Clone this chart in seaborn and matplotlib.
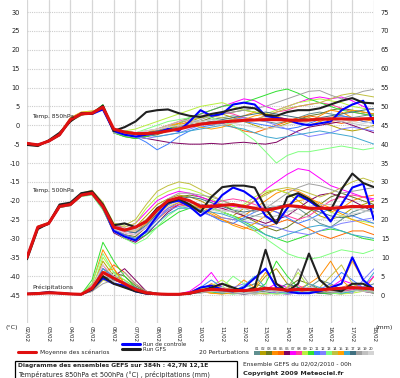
import matplotlib
matplotlib.use("Agg")
import matplotlib.pyplot as plt
from matplotlib.lines import Line2D
from matplotlib.patches import Rectangle
import seaborn as sns

# time axis: 12-hourly steps from 02/02 00h to 18/02 00h (in days)
days = [i / 2 for i in range(33)]
date_labels = ["%02d/02" % d for d in range(2, 19)]

# ---------- Temp 850 hPa (deg C) ----------
t850_mean = [-4.8, -5.2, -4.2, -2.5, 1.5, 3.0, 3.2, 4.8, -1.0, -1.8, -2.2, -2.2, -2.0, -1.5, -1.0,
             -0.3, 0.3, 0.6, 0.9, 1.1, 1.3, 1.4, 1.5, 1.5, 1.4, 1.3, 1.4, 1.6, 1.7, 1.7, 1.6, 1.7, 1.8]
t850_ctrl = [-4.8, -5.2, -4.2, -2.5, 1.5, 3.0, 3.0, 4.2, -1.5, -2.5, -3.0, -2.5, -2.0, -1.0, -1.5,
             1.0, 4.0, 2.5, 3.0, 5.5, 6.0, 5.5, 2.5, 2.0, 1.5, 0.5, 0.0, 0.5, 1.0, 4.0, 5.5, 6.5, 0.5]
t850_gfs = [-5.2, -5.5, -4.0, -2.0, 1.0, 3.2, 3.0, 5.2, -1.5, -0.5, 1.0, 3.5, 4.0, 4.2, 3.2,
            2.5, 2.2, 3.0, 3.5, 4.2, 4.8, 4.5, 2.7, 2.5, 3.5, 4.0, 4.0, 4.5, 5.5, 6.5, 7.2, 6.0, 5.8]
t850_members = [
    [-4.9, -5.1, -4.0, -2.3, 1.8, 3.3, 3.6, 4.5, -1.5, -2.0, -2.5, -2.0, -1.5, -1.0, 0.0, 0.5, 1.0,
     1.5, 2.0, 2.5, 2.0, 1.5, 1.0, 0.5, 1.0, 2.0, 3.0, 3.5, 3.0, 2.5, 2.0, 2.5, 3.0],
    [-4.7, -5.3, -4.3, -2.6, 1.2, 2.8, 3.0, 4.9, -1.0, -2.0, -3.0, -3.0, -2.0, -1.0, 0.0, 1.0, 2.0,
     2.5, 3.0, 2.0, 1.0, 0.0, -1.0, -0.5, 0.5, 1.5, 2.0, 1.0, 0.0, -1.0, -1.5, -1.0, 0.0],
    [-4.8, -5.0, -4.4, -2.8, 1.0, 2.6, 3.4, 5.3, -2.0, -3.0, -3.5, -3.0, -2.5, -1.5, -0.5, 0.5, 1.0,
     2.0, 3.0, 3.5, 4.0, 3.5, 2.5, 1.5, 1.0, 1.5, 2.5, 3.0, 4.0, 4.5, 4.0, 3.5, 3.0],
    [-4.9, -5.2, -4.1, -2.2, 2.0, 3.5, 3.8, 4.0, -1.0, -1.5, -2.0, -2.5, -2.0, -1.0, 0.0, 1.0, 0.5,
     0.0, 0.5, 1.5, 2.5, 3.5, 3.0, 2.0, 1.0, 0.5, 1.0, 2.5, 4.0, 3.5, 2.0, 1.0, 1.5],
    [-4.6, -5.2, -4.2, -2.4, 1.6, 3.1, 3.1, 4.6, -1.5, -2.5, -3.0, -2.5, -2.0, -1.5, -1.0, 0.0, 0.5,
     1.0, 0.5, -0.5, -1.5, -2.0, -1.0, 0.0, 1.0, 2.0, 2.5, 2.0, 1.0, 0.5, 1.0, 1.5, 2.0],
    [-4.8, -5.4, -4.3, -2.7, 1.3, 2.9, 3.3, 4.4, -2.0, -2.5, -3.0, -3.5, -4.0, -4.5, -4.8, -5.0, -5.0,
     -4.8, -5.0, -4.7, -4.5, -4.8, -5.0, -4.5, -3.0, -1.5, -0.5, 0.0, 0.5, 1.0, 0.0, -1.0, -2.0],
    [-4.7, -5.1, -4.1, -2.4, 1.7, 3.2, 3.5, 5.0, -1.0, -2.0, -2.5, -2.0, -1.5, -0.5, 0.5, 1.5, 3.0,
     4.0, 5.0, 6.0, 7.0, 6.5, 5.0, 4.0, 5.0, 6.0, 7.0, 7.5, 7.0, 7.5, 6.5, 5.0, 4.0],
    [-4.9, -5.2, -4.2, -2.5, 1.4, 3.0, 3.2, 4.7, -1.5, -2.0, -2.0, -1.5, -1.0, 0.0, 1.0, 2.0, 2.5,
     3.0, 3.5, 3.0, 2.0, 1.5, 2.5, 3.5, 4.0, 5.0, 5.5, 6.0, 5.5, 4.5, 3.5, 3.0, 2.5],
    [-4.8, -5.3, -4.0, -2.1, 1.9, 3.4, 3.7, 4.8, -1.0, -1.5, -1.0, 0.0, 1.0, 2.0, 3.0, 4.0, 5.0,
     5.5, 6.0, 5.0, 4.0, 3.5, 3.0, 4.0, 5.0, 6.0, 6.5, 7.0, 6.5, 6.0, 5.0, 4.5, 4.0],
    [-4.8, -5.2, -4.3, -2.6, 1.5, 3.0, 3.0, 5.5, -2.0, -3.0, -3.5, -3.0, -2.0, -1.0, 0.5, 2.0, 3.0,
     4.0, 5.0, 5.5, 6.0, 7.0, 8.0, 9.0, 9.6, 8.5, 7.0, 6.0, 5.0, 4.0, 3.5, 3.0, 2.5],
    [-4.9, -5.0, -4.2, -2.5, 1.6, 3.1, 3.3, 4.3, -1.0, -2.0, -3.0, -4.5, -6.5, -5.0, -3.0, -1.5, -0.5,
     0.0, 0.5, 1.0, 1.0, 0.5, 0.0, -0.5, -1.0, -0.5, 0.5, 1.5, 2.0, 2.5, 2.0, 1.0, 0.5],
    [-4.7, -5.2, -4.4, -2.7, 1.2, 2.8, 3.1, 4.6, -1.5, -2.5, -3.0, -3.5, -3.0, -2.5, -2.0, -1.0, 0.0,
     0.5, 1.0, 1.5, 2.0, 1.5, 1.0, 0.0, -1.0, -2.0, -3.0, -2.5, -2.0, -1.0, -0.5, -1.0, -1.5],
    [-4.8, -5.1, -4.1, -2.4, 1.7, 3.2, 3.4, 4.9, -2.0, -2.5, -2.0, -1.0, 0.0, 1.0, 1.5, 2.0, 2.5,
     2.0, 1.0, 0.0, -2.0, -4.0, -7.0, -10.0, -8.0, -7.0, -7.0, -6.5, -6.0, -5.5, -6.0, -6.5, -6.0],
    [-4.9, -5.2, -4.2, -2.3, 1.6, 3.1, 3.2, 4.4, -1.0, -1.5, -2.0, -2.0, -1.5, -0.5, 0.5, 1.5, 2.0,
     2.5, 2.0, 1.5, 1.0, 1.5, 2.5, 3.5, 4.5, 5.0, 5.5, 6.0, 7.0, 8.0, 8.5, 8.0, 7.5],
    [-4.8, -5.3, -4.2, -2.6, 1.4, 2.9, 3.0, 4.7, -1.5, -2.0, -2.5, -2.0, -1.0, 0.0, 0.5, 0.0, -0.5,
     -1.0, -0.5, 0.5, 1.5, 2.5, 3.0, 2.5, 1.5, 0.5, 0.0, 1.0, 2.0, 3.0, 4.0, 3.5, 3.0],
    [-4.7, -5.1, -4.3, -2.5, 1.5, 3.0, 3.3, 4.5, -1.0, -1.5, -2.0, -2.5, -3.0, -2.5, -2.0, -1.5, -1.0,
     -0.5, 0.0, -0.5, -1.0, -2.0, -3.0, -3.5, -3.0, -2.5, -2.0, -1.5, -2.0, -2.5, -3.0, -4.0, -5.0],
    [-4.8, -5.2, -4.1, -2.4, 1.6, 3.2, 3.4, 4.8, -1.5, -2.0, -2.5, -2.0, -1.5, -1.0, -0.5, 0.0, 0.5,
     1.0, 1.5, 2.0, 2.5, 3.0, 3.5, 3.0, 2.5, 2.0, 1.5, 2.0, 2.5, 3.0, 3.5, 4.0, 4.5],
    [-4.9, -5.2, -4.2, -2.5, 1.5, 3.0, 3.1, 4.6, -2.0, -2.5, -3.0, -2.5, -2.0, -1.5, -0.5, 0.5, 1.5,
     2.5, 3.0, 3.5, 4.0, 4.5, 5.0, 6.0, 7.0, 8.0, 9.0, 9.2, 8.0, 7.0, 8.0, 9.0, 9.5],
    [-4.8, -5.1, -4.3, -2.6, 1.4, 2.9, 3.2, 4.9, -1.0, -1.5, -2.0, -1.5, -1.0, 0.0, 1.0, 1.5, 1.0,
     0.5, 0.0, 0.5, 1.0, 1.5, 2.0, 2.0, 1.5, 1.0, 1.5, 2.0, 1.5, 1.0, 0.5, 0.0, -0.5],
    [-4.7, -5.2, -4.2, -2.5, 1.6, 3.1, 3.3, 4.7, -1.5, -2.0, -2.0, -1.5, -1.0, -0.5, 0.0, 0.5, 1.0,
     1.5, 1.0, 0.5, 0.0, -0.5, -1.0, -0.5, 0.0, 0.5, 1.0, 1.5, 2.0, 1.5, 1.0, 0.5, 1.0],
]

# ---------- Temp 500 hPa (deg C) ----------
t500_mean = [-35.0, -27.0, -26.0, -21.5, -21.0, -18.5, -18.0, -21.5, -27.0, -27.8, -27.0, -25.5, -22.5,
             -20.0, -19.2, -20.0, -21.5, -21.5, -21.2, -21.0, -21.5, -22.0, -22.5, -22.0, -21.3, -21.5,
             -22.0, -22.0, -22.0, -21.8, -21.5, -21.6, -21.5]
t500_ctrl = [-35.0, -27.0, -26.0, -21.5, -21.0, -18.5, -18.0, -21.5, -28.0, -29.5, -30.5, -28.0, -24.0,
             -20.5, -20.0, -21.5, -24.0, -22.0, -18.5, -16.5, -17.5, -19.5, -24.0, -26.0, -22.0, -18.5,
             -20.0, -22.0, -25.5, -21.0, -16.5, -15.5, -25.0]
t500_gfs = [-35.5, -27.5, -26.0, -21.0, -20.5, -18.0, -17.5, -21.0, -26.5, -26.0, -27.0, -25.5, -22.0,
            -20.5, -19.5, -21.0, -23.0, -19.0, -16.4, -16.0, -16.0, -16.5, -22.0, -26.0, -19.0, -18.0,
            -19.5, -21.7, -22.5, -17.0, -12.8, -15.3, -16.4]
t500_members = [
    [-35.2, -27.1, -25.8, -21.3, -20.8, -18.3, -17.6, -21.0, -27.0, -28.0, -28.5, -26.0, -23.0, -21.0,
     -20.0, -20.5, -21.0, -22.0, -23.0, -24.0, -25.0, -24.0, -23.0, -22.0, -21.0, -22.0, -24.0, -26.0,
     -27.0, -25.0, -23.0, -22.0, -21.0],
    [-34.8, -26.8, -26.2, -21.7, -21.2, -18.7, -18.2, -21.8, -26.5, -27.5, -27.0, -24.0, -21.0, -19.5,
     -18.5, -19.0, -20.0, -21.5, -23.0, -24.0, -22.0, -20.0, -18.0, -17.0, -18.0, -20.0, -22.0, -24.0,
     -25.0, -24.0, -22.0, -21.0, -20.0],
    [-35.1, -27.2, -26.1, -21.6, -21.1, -18.6, -17.9, -22.0, -28.0, -29.0, -29.5, -27.0, -24.0, -21.0,
     -19.0, -18.5, -19.0, -20.0, -21.0, -22.5, -24.0, -25.5, -27.0, -28.0, -27.0, -25.0, -23.0, -21.0,
     -19.0, -18.0, -19.0, -20.0, -21.0],
    [-34.9, -26.9, -25.9, -21.4, -20.9, -18.4, -17.7, -21.2, -27.0, -28.0, -27.0, -25.0, -22.0, -20.0,
     -19.5, -20.0, -21.5, -23.0, -24.5, -25.0, -24.0, -22.0, -20.0, -18.0, -17.0, -17.5, -19.0, -21.0,
     -23.0, -22.0, -20.0, -19.0, -18.5],
    [-35.0, -27.0, -26.0, -21.5, -21.0, -18.5, -18.1, -21.6, -27.5, -29.0, -30.0, -28.0, -25.0, -22.5,
     -21.0, -21.5, -22.5, -24.0, -25.0, -26.0, -27.0, -28.0, -27.0, -26.0, -25.0, -26.0, -27.5, -29.0,
     -30.0, -29.0, -28.0, -28.0, -29.0],
    [-35.2, -27.3, -26.3, -21.8, -21.3, -18.8, -18.3, -22.2, -28.5, -30.0, -31.0, -29.0, -26.0, -23.0,
     -21.0, -20.5, -21.0, -21.5, -22.0, -23.0, -24.0, -25.0, -26.0, -25.0, -24.0, -22.0, -20.0, -18.5,
     -18.0, -19.0, -20.0, -21.5, -23.0],
    [-34.8, -26.8, -25.8, -21.2, -20.7, -18.2, -17.4, -20.8, -26.5, -27.0, -26.0, -23.0, -20.0, -18.5,
     -17.5, -18.0, -19.0, -20.0, -21.0, -21.5, -22.0, -20.0, -17.0, -15.0, -13.0, -11.5, -12.0, -14.0,
     -16.0, -17.0, -18.0, -19.0, -19.5],
    [-35.1, -27.1, -26.1, -21.6, -21.1, -18.6, -18.0, -21.7, -27.0, -28.5, -29.0, -27.0, -24.0, -22.0,
     -21.0, -21.5, -22.0, -21.0, -20.0, -19.5, -20.0, -21.0, -22.0, -23.0, -24.0, -25.0, -24.0, -22.0,
     -20.0, -19.0, -18.5, -19.0, -20.0],
    [-34.9, -26.9, -25.9, -21.3, -20.8, -18.2, -17.5, -20.6, -26.0, -27.0, -26.0, -22.0, -19.0, -17.5,
     -16.5, -17.0, -18.0, -19.5, -21.0, -22.0, -21.0, -19.0, -17.5, -17.0, -18.0, -19.0, -20.0, -21.5,
     -23.0, -24.0, -25.0, -25.5, -26.0],
    [-35.0, -27.2, -26.2, -21.7, -21.2, -18.7, -18.4, -22.3, -28.0, -29.5, -30.5, -29.0, -27.0, -25.0,
     -23.0, -22.0, -21.5, -22.0, -23.0, -24.0, -25.5, -27.0, -29.0, -30.0, -31.0, -30.0, -29.0, -28.0,
     -27.5, -28.0, -29.0, -30.0, -30.5],
    [-35.1, -27.0, -26.0, -21.5, -21.0, -18.5, -18.1, -21.9, -27.5, -29.0, -30.0, -28.0, -25.0, -22.0,
     -20.5, -21.0, -22.5, -24.0, -25.5, -26.0, -24.5, -23.0, -22.0, -23.0, -24.5, -26.0, -25.0, -23.5,
     -22.0, -23.0, -24.0, -25.0, -26.0],
    [-34.9, -27.1, -26.1, -21.6, -21.1, -18.6, -18.0, -21.4, -27.0, -28.0, -28.5, -27.0, -24.5, -22.5,
     -21.5, -22.0, -23.0, -24.0, -24.5, -25.0, -25.5, -26.0, -26.5, -27.0, -28.0, -28.5, -29.0, -28.0,
     -27.0, -26.0, -25.5, -25.0, -24.5],
    [-35.2, -27.3, -26.2, -21.8, -21.3, -18.9, -18.5, -22.5, -28.0, -30.0, -31.5, -30.0, -27.0, -24.0,
     -22.0, -21.0, -21.5, -22.0, -23.0, -24.0, -26.0, -28.0, -30.0, -32.0, -34.0, -35.0, -35.5, -35.0,
     -34.0, -33.0, -33.5, -34.0, -33.0],
    [-34.8, -26.7, -25.7, -21.1, -20.6, -18.0, -17.2, -20.4, -26.0, -26.5, -25.0, -21.0, -17.5, -16.0,
     -15.0, -15.5, -17.0, -18.5, -20.0, -21.0, -21.5, -20.0, -18.5, -17.0, -16.5, -17.0, -18.0, -19.0,
     -18.0, -16.5, -15.0, -14.0, -15.0],
    [-35.0, -27.0, -26.0, -21.5, -21.0, -18.5, -18.0, -21.5, -27.0, -28.0, -28.0, -26.0, -23.5, -21.5,
     -20.5, -21.0, -22.0, -23.5, -25.0, -26.5, -27.5, -26.0, -24.0, -22.0, -21.0, -20.0, -19.5, -20.5,
     -22.0, -23.5, -25.0, -26.0, -27.0],
    [-35.1, -27.2, -26.2, -21.7, -21.2, -18.7, -18.3, -22.1, -28.0, -29.5, -30.0, -28.5, -26.0, -23.5,
     -22.0, -22.0, -22.5, -23.0, -23.5, -24.5, -26.0, -27.5, -29.0, -30.0, -29.0, -28.0, -27.0, -26.5,
     -27.0, -28.0, -29.0, -29.5, -30.0],
    [-34.9, -26.9, -25.9, -21.4, -20.9, -18.4, -17.8, -21.3, -27.0, -28.0, -28.5, -26.5, -23.5, -21.0,
     -19.5, -19.0, -19.5, -20.5, -21.5, -22.5, -23.0, -22.5, -22.0, -21.5, -21.0, -21.5, -22.0, -23.0,
     -24.0, -24.5, -24.0, -23.0, -22.0],
    [-35.0, -26.9, -25.9, -21.4, -20.9, -18.3, -17.6, -20.9, -26.5, -27.5, -27.5, -25.0, -22.0, -19.5,
     -18.0, -18.0, -18.5, -19.0, -20.0, -21.0, -22.0, -23.0, -22.0, -20.0, -18.0, -16.5, -15.5, -16.0,
     -17.0, -18.0, -17.5, -17.0, -16.5],
    [-35.0, -27.0, -26.0, -21.5, -21.0, -18.5, -18.0, -21.5, -27.0, -28.0, -28.0, -25.5, -22.5, -20.5,
     -19.5, -20.0, -21.0, -22.0, -22.5, -23.0, -23.5, -24.0, -24.5, -24.0, -23.0, -22.0, -21.5, -21.0,
     -21.0, -21.5, -22.0, -22.5, -23.0],
    [-35.1, -27.1, -26.1, -21.6, -21.1, -18.6, -18.1, -21.7, -27.5, -28.5, -29.0, -27.0, -24.0, -21.5,
     -20.0, -20.5, -21.5, -22.5, -23.0, -22.5, -22.0, -21.5, -21.0, -21.5, -22.5, -23.5, -24.5, -25.0,
     -24.5, -24.0, -23.5, -23.0, -22.5],
]

# ---------- Precipitation (mm, right axis) ----------
prec_mean = [0.3, 0.4, 0.6, 0.5, 0.3, 0.2, 1.8, 6.0, 4.5, 3.0, 1.5, 0.6, 0.3, 0.2, 0.2, 0.5, 1.2,
             1.5, 1.4, 1.2, 1.2, 1.4, 1.8, 1.6, 1.3, 1.5, 1.5, 1.4, 1.6, 1.8, 2.0, 1.8, 1.6]
prec_ctrl = [0.3, 0.5, 0.7, 0.5, 0.3, 0.2, 1.5, 4.5, 3.0, 2.5, 1.0, 0.4, 0.3, 0.2, 0.2, 0.5, 2.0,
             2.5, 1.5, 1.0, 2.0, 4.5, 7.0, 2.0, 1.0, 0.5, 0.5, 1.0, 2.0, 3.0, 10.0, 4.0, 1.5]
prec_gfs = [0.3, 0.5, 0.7, 0.5, 0.3, 0.2, 1.5, 5.0, 3.0, 2.0, 1.0, 0.4, 0.3, 0.2, 0.2, 0.4, 1.0,
            2.0, 3.0, 2.0, 1.0, 2.0, 12.0, 3.0, 1.0, 3.0, 11.0, 4.0, 1.5, 1.0, 3.0, 3.0, 1.5]
prec_members = [
    [0.3, 0.5, 0.8, 0.6, 0.3, 0.2, 1.5, 6, 4, 3, 1.5, 0.5, 0.3, 0.2, 0.2, 0.5, 1.5, 1, 0.5, 1, 2, 3, 2, 1, 0.5, 1, 2, 4, 3, 1.5, 1, 2, 3],
    [0.3, 0.4, 0.6, 0.5, 0.3, 0.2, 2, 9, 5, 4, 2, 0.8, 0.3, 0.2, 0.3, 0.8, 2, 1.5, 0.8, 0.5, 1, 1.5, 5, 7, 3, 1, 0.5, 1, 2.5, 1.5, 1, 1.5, 2],
    [0.2, 0.4, 0.5, 0.5, 0.2, 0.3, 1, 4, 6, 5, 2.5, 1, 0.5, 0.3, 0.2, 0.3, 1, 2, 3, 1.5, 0.5, 0.3, 0.5, 1, 2, 4, 3, 1.5, 0.5, 0.3, 1, 2, 1],
    [0.3, 0.5, 0.7, 0.4, 0.2, 0.2, 3, 12, 7, 3, 1, 0.5, 0.3, 0.2, 0.2, 0.5, 1, 0.5, 0.3, 1.5, 4, 2, 0.5, 0.3, 0.5, 1.5, 3, 5, 9, 4, 1.5, 1, 5],
    [0.2, 0.3, 0.6, 0.5, 0.3, 0.2, 1.5, 5, 8, 6, 3, 1, 0.3, 0.2, 0.2, 0.4, 1.5, 3, 2, 1, 0.5, 0.5, 1, 2, 1.5, 1, 0.8, 0.5, 1, 2, 3, 2, 1],
    [0.3, 0.5, 0.8, 0.6, 0.3, 0.2, 2, 7, 5, 7, 4, 1, 0.4, 0.2, 0.3, 0.5, 1, 1.5, 1, 0.5, 0.3, 0.5, 1, 0.5, 0.3, 0.5, 1, 0.5, 0.3, 0.8, 1.5, 1, 0.5],
    [0.3, 0.4, 0.5, 0.4, 0.2, 0.2, 1, 5, 3, 2, 1, 0.5, 0.3, 0.2, 0.3, 1, 3, 6, 2, 1, 0.5, 1, 1.5, 3, 2, 1, 1.5, 1, 2, 4, 3, 2, 5],
    [0.2, 0.3, 0.5, 0.4, 0.3, 0.2, 2.5, 8, 4, 3, 1.5, 0.6, 0.3, 0.2, 0.2, 0.4, 0.8, 1, 1.5, 2, 1, 0.5, 0.3, 0.5, 1, 2.5, 1.5, 1, 0.5, 1, 1.5, 2, 1.5],
    [0.3, 0.5, 0.7, 0.5, 0.3, 0.2, 1.5, 10, 6, 2, 1, 0.4, 0.3, 0.2, 0.2, 0.6, 1.5, 2.5, 4, 2, 1, 0.5, 0.3, 0.5, 2, 6, 2, 1, 0.5, 0.3, 0.5, 1, 2],
    [0.3, 0.4, 0.6, 0.5, 0.3, 0.2, 4, 14, 9, 5, 2, 0.8, 0.4, 0.2, 0.3, 0.5, 1.2, 0.8, 0.5, 0.3, 0.5, 1, 3, 9, 5, 2, 1, 0.5, 0.3, 1, 3, 1.5, 0.5],
    [0.2, 0.4, 0.6, 0.5, 0.3, 0.2, 1.5, 6, 5, 3, 1.5, 0.5, 0.3, 0.2, 0.2, 0.5, 2, 4, 2, 1, 0.5, 0.8, 1.5, 1, 0.5, 1, 2, 1.5, 3, 6, 4, 2, 1],
    [0.3, 0.5, 0.8, 0.5, 0.3, 0.2, 2, 7, 4, 3.5, 2, 0.7, 0.3, 0.2, 0.2, 0.4, 1, 1.5, 1, 2, 3, 1.5, 1, 0.5, 0.3, 0.5, 1, 2, 1.5, 1, 0.5, 4, 7],
    [0.2, 0.3, 0.5, 0.4, 0.3, 0.2, 3, 11, 6, 4, 1.5, 0.5, 0.3, 0.2, 0.3, 0.5, 0.8, 1, 2, 5, 3, 1.5, 0.5, 0.3, 0.5, 1, 1.5, 1, 0.5, 0.5, 1, 1.5, 1],
    [0.3, 0.4, 0.6, 0.5, 0.3, 0.2, 1, 4, 3, 2.5, 1.5, 0.6, 0.3, 0.2, 0.2, 0.3, 0.8, 1.5, 2, 1.5, 1, 0.5, 1, 2, 1, 0.5, 1, 2, 5, 8, 3, 1.5, 2],
    [0.3, 0.5, 0.7, 0.5, 0.3, 0.2, 2, 6, 7, 3, 1, 0.5, 0.3, 0.2, 0.2, 0.4, 1, 0.5, 0.3, 0.5, 1, 2, 6, 3, 1, 0.5, 0.5, 1, 2, 3, 9, 4, 1],
    [0.2, 0.4, 0.6, 0.5, 0.3, 0.2, 1.5, 7, 5, 2.5, 1, 0.5, 0.3, 0.2, 0.3, 0.6, 1.5, 1, 0.5, 1, 2.5, 5, 2, 1, 0.5, 1, 3, 2, 1, 0.5, 1, 2, 6],
    [0.3, 0.4, 0.5, 0.4, 0.3, 0.2, 2, 5, 4, 3, 2, 0.7, 0.4, 0.2, 0.2, 0.5, 1, 2, 1, 0.5, 0.3, 0.5, 1, 1.5, 3, 2, 1, 0.5, 0.8, 1.5, 2, 1.5, 1],
    [0.2, 0.3, 0.5, 0.4, 0.3, 0.2, 1, 3, 4, 6, 3, 1, 0.4, 0.2, 0.2, 0.4, 0.5, 1, 1.5, 1, 0.5, 1, 2, 1.5, 1, 7, 3, 1, 0.5, 1, 2, 1, 0.5],
    [0.3, 0.4, 0.6, 0.5, 0.3, 0.2, 1.5, 6, 3.5, 2, 1, 0.5, 0.3, 0.2, 0.2, 0.3, 0.8, 1, 0.8, 0.5, 0.5, 1, 1.5, 1, 0.8, 0.5, 1, 1.5, 1, 0.8, 1.2, 1, 0.8],
    [0.2, 0.4, 0.5, 0.5, 0.3, 0.2, 2, 8, 5, 3, 1.5, 0.5, 0.3, 0.2, 0.2, 0.4, 1, 1.5, 2, 1, 0.5, 0.5, 0.8, 1.2, 1, 1.5, 2, 1.5, 1, 2, 2.5, 1.5, 1],
]

member_colors = ["#5f8f8f", "#b4a000", "#6b7a20", "#ff8c00", "#ff6a00", "#800060", "#ff00ff",
                 "#ff3fa0", "#b8f040", "#30e030", "#3f7fff", "#8080ff", "#80ff80", "#c0c040",
                 "#ffa000", "#40a8d0", "#407080", "#a0a0a0", "#c0c0c0", "#d4d4d4"]
member_ids = ["%02d" % (i + 1) for i in range(20)]

# --- figure ---
sns.set_style("white")
plt.rcParams["font.family"] = ["DejaVu Sans"]
W, H = 400, 378
fig = plt.figure(figsize=(W / 100, H / 100), dpi=100)
ax = fig.add_axes([27 / W, 1 - 323 / H, 347 / W, 323 / H])
ax2 = ax.twinx()

lo, hi = -52.4, 33.2
ax.set_xlim(0, 16)
ax.set_ylim(lo, hi)
ax2.set_ylim(lo + 45, hi + 45)

thin = 0.7
for vals, c in zip(t850_members, member_colors):
    sns.lineplot(x=days, y=vals, color=c, lw=thin, ax=ax)
for vals, c in zip(t500_members, member_colors):
    sns.lineplot(x=days, y=vals, color=c, lw=thin, ax=ax)
for series in (t850_ctrl, t500_ctrl):
    sns.lineplot(x=days, y=series, color="#0000ff", lw=1.5, ax=ax)
for series in (t850_gfs, t500_gfs):
    sns.lineplot(x=days, y=series, color="#202020", lw=1.5, ax=ax)
for series in (t850_mean, t500_mean):
    sns.lineplot(x=days, y=series, color="#e01010", lw=2.2, ax=ax)

for vals, c in zip(prec_members, member_colors):
    sns.lineplot(x=days, y=vals, color=c, lw=thin, ax=ax2)
sns.lineplot(x=days, y=prec_ctrl, color="#0000ff", lw=1.5, ax=ax2)
sns.lineplot(x=days, y=prec_gfs, color="#202020", lw=1.5, ax=ax2)
sns.lineplot(x=days, y=prec_mean, color="#e01010", lw=2.2, ax=ax2)

# grid and ticks
ax.set_xticks(range(17))
ax.set_xticklabels(date_labels, rotation=-90, fontsize=4.1, va="top", ha="center")
ax.set_yticks(range(-45, 31, 5))
ax.set_yticklabels([str(v) for v in range(-45, 31, 5)], fontsize=4.8)
ax2.set_yticks(range(0, 76, 5))
ax2.set_yticklabels([str(v) for v in range(0, 76, 5)], fontsize=4.8)
ax.tick_params(axis="both", length=0, pad=5, colors="#222222")
ax.tick_params(axis="x", pad=2)
ax2.tick_params(axis="y", length=0, pad=5, colors="#222222")
ax.grid(axis="x", color="#d6d6d6", lw=0.9)
ax.grid(axis="y", color="#cccccc", lw=0.8, ls=(0, (1, 1)))
ax.set_axisbelow(True)
for a in (ax, ax2):
    for s in a.spines.values():
        s.set_visible(False)
ax.set_xlabel("")
ax.set_ylabel("")
ax2.set_ylabel("")

lab = dict(fontsize=4.3, color="#222222", va="center", ha="left")
ax.text(0.25, 2.2, "Temp. 850hPa", **lab)
ax.text(0.25, -17.2, "Temp. 500hPa", **lab)
ax.text(0.25, -42.9, "Précipitations", **lab)

def fy(py):
    return 1 - py / H

fig.text(6 / W, fy(327), "(°C)", fontsize=4.6, va="center")
fig.text(376 / W, fy(327), "(mm)", fontsize=4.6, va="center")

# legend
fig.add_artist(Line2D([122 / W, 140 / W], [fy(344), fy(344)], color="#0000ff", lw=2.2))
fig.add_artist(Line2D([122 / W, 140 / W], [fy(348.5), fy(348.5)], color="#202020", lw=2.2))
fig.add_artist(Line2D([18 / W, 36 / W], [fy(352), fy(352)], color="#e01010", lw=2.2))
fig.text(143 / W, fy(344.3), "Run de controle", fontsize=4.0, va="center")
fig.text(143 / W, fy(349.6), "Run GFS", fontsize=4.0, va="center")
fig.text(40 / W, fy(352), "Moyenne des scénarios", fontsize=4.2, va="center")
fig.text(199 / W, fy(352), "20 Perturbations", fontsize=4.3, va="center")
for k, (mid, c) in enumerate(zip(member_ids, member_colors)):
    x0 = 254 + k * 6
    fig.add_artist(Rectangle((x0 / W, fy(355)), 5.5 / W, 4 / H, color=c, lw=0))
    fig.text((x0 + 2.8) / W, fy(348.5), mid, fontsize=2.6, ha="center", va="center")

fig.add_artist(Rectangle((15 / W, fy(380)), 222 / W, 19 / H, fill=False, ec="black", lw=0.9))
fig.text(18 / W, fy(366), "Diagramme des ensembles GEFS sur 384h : 42,7N 12,1E",
         fontsize=4.3, fontweight="bold", va="center")
fig.text(18 / W, fy(374.5), "Températures 850hPa et 500hPa (°C) , précipitations (mm)",
         fontsize=4.7, va="center")
fig.text(243 / W, fy(364), "Ensemble GEFS du 02/02/2010 - 00h", fontsize=4.2, va="center")
fig.text(243 / W, fy(374), "Copyright 2009 Meteociel.fr", fontsize=4.6, fontweight="bold",
         va="center")

fig.savefig("out.png", dpi=100, facecolor="white")
